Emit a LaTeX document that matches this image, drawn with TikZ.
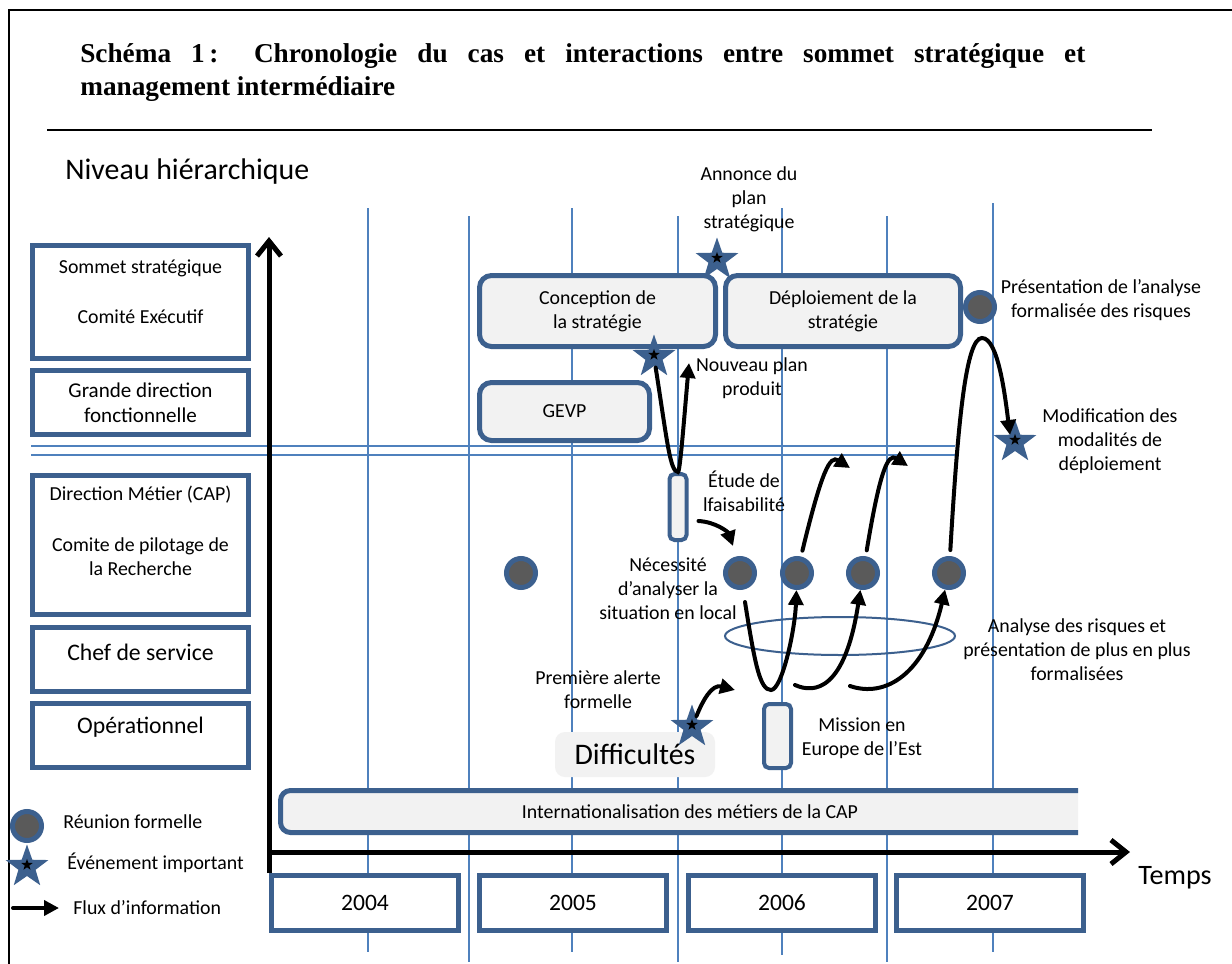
\documentclass[tikz,border=0pt]{standalone}
\usepackage{fontspec}
\setmainfont{Carlito}
\newfontfamily\titlefont{Liberation Serif}
\usetikzlibrary{positioning,shapes.geometric,arrows.meta}

\definecolor{boxblue}{RGB}{60,96,142}
\definecolor{gridblue}{RGB}{79,129,189}
\definecolor{lightfill}{RGB}{242,242,242}
\definecolor{dotgray}{RGB}{90,90,90}

\newlength\pu
\setlength\pu{0.02cm}
\newcommand{\smalltxt}{\fontsize{11.3}{13.7}\selectfont}

\tikzset{
  gridline/.style={gridblue, line width=1.6\pu},
  axisline/.style={black, line width=5\pu, -{Straight Barb[length=0.3cm, width=0.48cm]}},
  levelbox/.style={draw=boxblue, line width=5\pu, fill=white, minimum width=216\pu, inner sep=0pt},
  yearbox/.style={draw=boxblue, line width=5\pu, fill=white, minimum width=187\pu, minimum height=55\pu, font=\fontsize{13.4}{16}\selectfont},
  phasebox/.style={draw=boxblue, line width=5\pu, fill=lightfill, rounded corners=0.24cm, align=center, font=\smalltxt},
  slimbox/.style={draw=boxblue, line width=4\pu, fill=lightfill, rounded corners=0.1cm, inner sep=0pt},
  meetdot/.style={circle, draw=boxblue, line width=5\pu, fill=dotgray, minimum size=29\pu, inner sep=0pt},
  eventstar/.style={star, star points=5, star point ratio=2.5, fill=boxblue, minimum size=45\pu, inner sep=0pt,
    path picture={\node[star, star points=5, star point ratio=2.5, fill=black, minimum size=12\pu, inner sep=0pt]
      at (path picture bounding box.center) {};}},
  labeltext/.style={align=center, font=\smalltxt, inner sep=0pt},
  fluxarrow/.style={black, line width=4\pu, line cap=round, -{Triangle[length=0.3cm, width=0.3cm]}}
}

\begin{document}
\begin{tikzpicture}[x=0.02cm, y=-0.02cm]
  \path[fill=white] (0,0) rectangle (1232,964);
  \useasboundingbox (0,0) rectangle (1232,964);
  % frame and title
  \draw[line width=2\pu] (9,964) -- (9,10) -- (1232,10);
  \node[anchor=west, inner sep=0pt, font=\titlefont\bfseries\fontsize{15.5}{18}\selectfont] (title1) at (80,56)
    {\makebox[1005\pu][s]{Schéma 1\,: Chronologie du cas et interactions entre sommet stratégique et}};
  \node[anchor=west, inner sep=0pt, font=\titlefont\bfseries\fontsize{15.5}{18}\selectfont] (title2) at (80,89)
    {management intermédiaire};
  \draw[line width=2\pu] (47,130) -- (1152,130);
  \node[anchor=west, inner sep=0pt, font=\fontsize{17}{20}\selectfont] (niveau) at (65,172) {Niveau hiérarchique};

  % grid
  \foreach \x/\t/\b in {368/208/952, 469/216/962, 572/208/952, 678/216/962, 782/208/955, 887/216/962, 993/203/952}
    \draw[gridline] (\x,\t) -- (\x,\b);
  \draw[gridline] (31,446) -- (955,446);
  \draw[gridline] (31,455) -- (955,455);

  % hierarchy levels
  \node[levelbox, minimum height=113\pu] (sommet) at (140.5,302) {};
  \node[labeltext] (t-sommet1) at (140.5,268) {Sommet stratégique};
  \node[labeltext] (t-sommet2) at (140.5,317) {Comité Exécutif};
  \node[levelbox, minimum height=64\pu, align=center, font=\fontsize{12}{14.5}\selectfont] (grande) at (140.5,402.5)
    {Grande direction\\fonctionnelle};
  \node[levelbox, minimum height=139\pu] (metier) at (140.5,545) {};
  \node[labeltext] (t-metier1) at (140.5,495) {Direction Métier (CAP)};
  \node[labeltext] (t-metier2) at (140.5,557) {Comite de pilotage de\\la Recherche};
  \node[levelbox, minimum height=64\pu] (chef) at (140.5,659.5) {};
  \node[labeltext, font=\fontsize{13.5}{16}\selectfont] (t-chef) at (140.5,652) {Chef de service};
  \node[levelbox, minimum height=64\pu] (oper) at (140.5,735.5) {};
  \node[labeltext, font=\fontsize{13.5}{16}\selectfont] (t-oper) at (140.5,727) {Opérationnel};

  % axes
  \coordinate (y-low) at (269,873);
  \coordinate (y-top) at (269,237);
  \coordinate (x-left) at (267,852);
  \coordinate (x-right) at (1130,852);
  \draw[axisline] (y-low) -- (y-top);
  \draw[axisline] (x-left) -- (x-right);
  \node[font=\fontsize{16}{19}\selectfont] (temps) at (1175,878) {Temps};

  % years
  \node[yearbox] (y2004) at (365,903) {2004};
  \node[yearbox] (y2005) at (573,903) {2005};
  \node[yearbox] (y2006) at (782,903) {2006};
  \node[yearbox] (y2007) at (990,903) {2007};

  \begin{scope}
    \clip (270,780) rectangle (1078,845);
    \node[phasebox, minimum width=819\pu, minimum height=42\pu, rounded corners=0.2cm] (intl) at (690,811.5)
      {Internationalisation des métiers de la CAP};
  \end{scope}

  % phases
  \node[phasebox, minimum width=236\pu, minimum height=71\pu] (conception) at (597.5,311) {Conception de\\la stratégie};
  \node[phasebox, minimum width=235\pu, minimum height=71\pu] (deploiement) at (843,311) {Déploiement de la\\stratégie};
  \node[phasebox, minimum width=170\pu, minimum height=58\pu] (gevp) at (564.5,411.5) {GEVP};
  \node[slimbox, minimum width=17\pu, minimum height=66\pu] (etude) at (678,507) {};
  \node[slimbox, minimum width=27\pu, minimum height=64\pu] (mission) at (777.5,736) {};
  \node[fill=lightfill, rounded corners=0.2cm, minimum width=160\pu, minimum height=45\pu, inner sep=0pt,
    font=\fontsize{17}{20}\selectfont] (diff) at (635,754.5) {Difficultés};
  \node[ellipse, draw=boxblue, line width=2\pu, minimum width=230\pu, minimum height=38\pu, inner sep=0pt] (risques) at (840,636) {};

  % meetings and events
  \node[meetdot] (m0) at (521,573) {};
  \node[meetdot] (m1) at (740,573) {};
  \node[meetdot] (m2) at (797,573) {};
  \node[meetdot] (m3) at (863,573) {};
  \node[meetdot] (m4) at (949,573) {};
  \node[meetdot] (m5) at (980,307) {};
  \node[eventstar] (s-annonce) at (717,260) {};
  \node[eventstar] (s-concept) at (654,357) {};
  \node[eventstar] (s-alerte) at (692,727) {};
  \node[eventstar] (s-modif) at (1015,442) {};

  % labels
  \node[labeltext] (l-annonce) at (749,199) {Annonce du\\plan\\stratégique};
  \node[labeltext] (l-nouveau) at (752,378) {Nouveau plan\\produit};
  \node[labeltext] (l-present) at (1101,300) {Présentation de l’analyse\\formalisée des risques};
  \node[labeltext] (l-modif) at (1110,441) {Modification des\\modalités de\\déploiement};
  \node[labeltext] (l-etude) at (744,491) {Étude de\\lfaisabilité};
  \node[labeltext] (l-necess) at (668,589) {Nécessité\\d’analyser la\\situation en local};
  \node[labeltext] (l-alerte) at (598,690) {Première alerte\\formelle};
  \node[labeltext] (l-mission) at (862,738) {Mission en\\Europe de l’Est};
  \node[labeltext] (l-analyse) at (1077,650) {Analyse des risques et\\présentation de plus en plus\\formalisées};

  % information flows
  \coordinate (np-tip) at (689,363);
  \coordinate (alert-tip) at (735,690);
  \coordinate (r-start) at (850,686);
  \coordinate (e1-tip) at (850,468);
  \coordinate (e2-tip) at (908,466);
  \draw[fluxarrow] (s-concept) .. controls (667,440) and (670,472) .. (etude.north)
    .. controls (680,472) and (684,420) .. (np-tip);
  \draw[fluxarrow] ([shift={(10,14)}]etude.east) .. controls (716,522) and (728,532) .. ([shift={(-7,-10)}]m1.north);
  \draw[fluxarrow] (s-alerte) .. controls (703,700) and (712,684) .. (alert-tip);
  \draw[fluxarrow] ([shift={(5,12)}]m1.south) .. controls (755,665) and (760,690) .. (771,690)
    .. controls (782,690) and (795,630) .. (m2);
  \draw[fluxarrow] ([shift={(2,-17)}]mission.north east) .. controls (815,694) and (845,690) .. (m3);
  \draw[fluxarrow] (r-start) .. controls (885,698) and (925,675) .. (m4);
  \draw[fluxarrow, shorten <=6\pu] (m2) .. controls (822,470) and (830,455) .. (e1-tip);
  \draw[fluxarrow, shorten <=6\pu] (m3) .. controls (880,470) and (888,453) .. (e2-tip);
  \draw[fluxarrow, shorten <=6\pu] (m4) .. controls (958,420) and (966,338) .. (982,338)
    .. controls (998,338) and (1005,395) .. ([shift={(-5,-7)}]s-modif.center);

  % legend
  \node[meetdot] (lg-meet) at (27,826) {};
  \node[eventstar] (lg-event) at (27,867) {};
  \node[labeltext, anchor=west] (lg-t1) at (63,822) {Réunion formelle};
  \node[labeltext, anchor=west] (lg-t2) at (67,863) {Événement important};
  \node[labeltext, anchor=west] (lg-t3) at (73,908) {Flux d’information};
  \coordinate (lg-a) at (13,908);
  \draw[fluxarrow, shorten >=14\pu] (lg-a) -- (lg-t3.west);
\end{tikzpicture}
\end{document}
